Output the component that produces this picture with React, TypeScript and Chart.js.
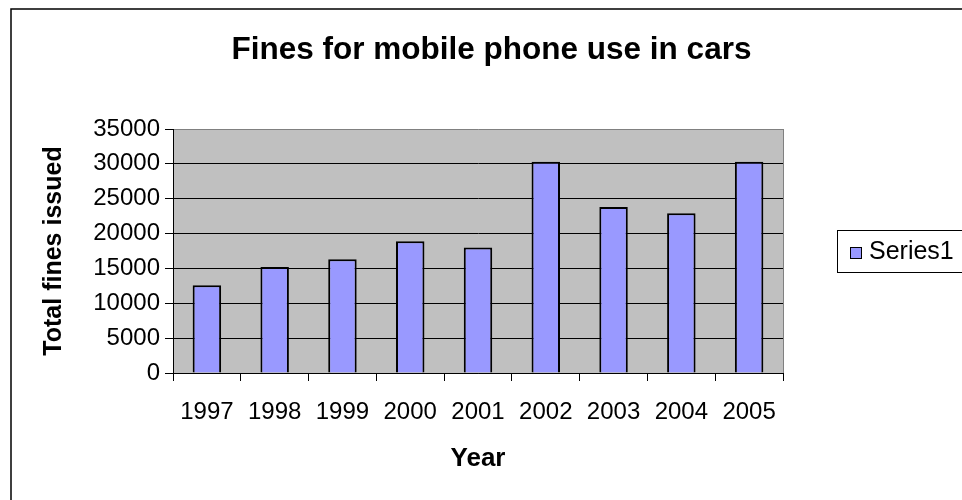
import { useEffect, useRef } from "react";
import { Chart, registerables } from "chart.js";

Chart.register(...registerables);

const categories = ["1997", "1998", "1999", "2000", "2001", "2002", "2003", "2004", "2005"];
const finesIssued = [12600, 15200, 16300, 18900, 18000, 30300, 23800, 22900, 30300];
const yTickValues = [0, 5000, 10000, 15000, 20000, 25000, 30000, 35000];
const seriesName = "Series1";
const chartTitle = "Fines for mobile phone use in cars";
const xTitle = "Year";
const yTitle = "Total fines issued";

const FONT = '"Liberation Sans", Arial, sans-serif';

const framePlugin = {
  id: "frameAndPlot",
  beforeDraw(chart: any) {
    const { ctx, chartArea, width, height } = chart;
    ctx.save();
    ctx.fillStyle = "#ffffff";
    ctx.fillRect(0, 0, width, height);
    ctx.strokeStyle = "#000000";
    ctx.lineWidth = 1.5;
    ctx.strokeRect(11, 9, width + 100, height + 100);
    ctx.fillStyle = "#c0c0c0";
    ctx.fillRect(chartArea.left, chartArea.top, chartArea.right - chartArea.left, chartArea.bottom - chartArea.top);
    ctx.strokeStyle = "#808080";
    ctx.lineWidth = 1;
    ctx.beginPath();
    ctx.moveTo(Math.round(chartArea.right) + 0.5, chartArea.top);
    ctx.lineTo(Math.round(chartArea.right) + 0.5, chartArea.bottom);
    ctx.stroke();
    // chart title, centred on the outer frame
    ctx.fillStyle = "#000000";
    ctx.font = `bold 31.5px ${FONT}`;
    ctx.textAlign = "center";
    ctx.textBaseline = "middle";
    ctx.fillText(chartTitle, (11 + width + 10) / 2, 50);
    ctx.restore();
  },
};

const legendPlugin = {
  id: "sideLegend",
  afterDraw(chart: any) {
    const { ctx, chartArea } = chart;
    const ds = chart.data.datasets[0];
    const x = Math.round(chartArea.right + 54);
    const cy = Math.round((chartArea.top + chartArea.bottom) / 2);
    const h = 42;
    ctx.save();
    ctx.fillStyle = "#ffffff";
    ctx.fillRect(x, cy - h / 2, 300, h);
    ctx.strokeStyle = "#000000";
    ctx.lineWidth = 1;
    ctx.strokeRect(x + 0.5, cy - h / 2 + 0.5, 300, h);
    ctx.fillStyle = ds.backgroundColor;
    ctx.fillRect(x + 13, cy - 4, 12, 12);
    ctx.strokeRect(x + 13.5, cy - 3.5, 11, 11);
    ctx.font = `25px ${FONT}`;
    ctx.fillStyle = "#000000";
    ctx.textBaseline = "middle";
    ctx.textAlign = "left";
    ctx.fillText(ds.label, x + 32, cy + 1);
    ctx.restore();
  },
};

export default function App() {
  const canvasRef = useRef<HTMLCanvasElement | null>(null);

  useEffect(() => {
    if (!canvasRef.current) return;
    const chart = new Chart(canvasRef.current, {
      type: "bar",
      data: {
        labels: categories,
        datasets: [
          {
            label: seriesName,
            data: finesIssued,
            backgroundColor: "#9999ff",
            borderColor: "#000000",
            borderWidth: 2,
            barPercentage: 0.42,
            categoryPercentage: 1,
          },
        ],
      },
      options: {
        animation: false,
        responsive: false,
        devicePixelRatio: 1,
        layout: { padding: { left: 0, right: 179, top: 129, bottom: 0 } },
        plugins: {
          legend: { display: false },
          tooltip: { enabled: false },
          title: { display: false },
        },
        scales: {
          x: {
            afterFit(scale: any) {
              scale.height = 127;
            },
            grid: {
              display: true,
              drawOnChartArea: false,
              drawTicks: true,
              tickLength: 8,
              color: "#000000",
              offset: true,
            },
            border: { display: true, color: "#000000", width: 1 },
            ticks: {
              color: "#000000",
              font: { family: FONT, size: 24 },
              padding: 17,
              maxRotation: 0,
              autoSkip: false,
            },
            title: {
              display: true,
              text: xTitle,
              color: "#000000",
              font: { family: FONT, size: 26, weight: "bold" },
              padding: { top: 0, bottom: 26 },
            },
          },
          y: {
            min: 0,
            max: 35000,
            afterFit(scale: any) {
              scale.width = 173;
            },
            afterBuildTicks(scale: any) {
              scale.ticks = yTickValues.map((v) => ({ value: v }));
            },
            grid: {
              color: (c: any) => (c.tick && c.tick.value === 35000 ? "#808080" : "#000000"),
              tickColor: "#000000",
              tickLength: 8,
              lineWidth: 1,
            },
            border: { display: true, color: "#000000", width: 1 },
            ticks: {
              color: "#000000",
              font: { family: FONT, size: 24 },
              padding: 5,
              callback: (v: any) => String(v),
            },
            title: {
              display: true,
              text: yTitle,
              color: "#000000",
              font: { family: FONT, size: 25, weight: "bold" },
              padding: { top: 39, bottom: 0 },
            },
          },
        },
      } as any,
      plugins: [framePlugin, legendPlugin],
    });
    return () => chart.destroy();
  }, []);

  return (
    <div style={{ position: "fixed", left: 0, top: 0, width: 962, height: 500 }}>
      <canvas ref={canvasRef} width={962} height={500} style={{ width: 962, height: 500, display: "block" }} />
    </div>
  );
}
